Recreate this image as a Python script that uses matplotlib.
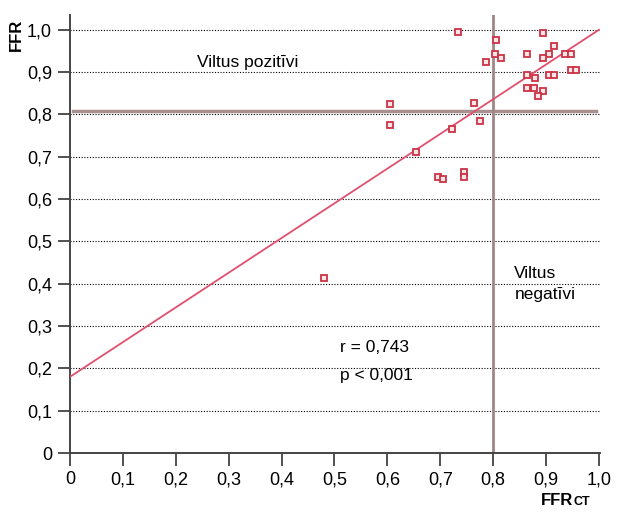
import matplotlib
matplotlib.use("Agg")
import matplotlib.pyplot as plt
import numpy as np
from matplotlib.ticker import FuncFormatter

# FFRct (x) vs FFR (y)
ffr_ct = [0.733, 0.894, 0.805, 0.803, 0.815, 0.786, 0.864, 0.915, 0.905, 0.894,
          0.936, 0.947, 0.864, 0.879, 0.905, 0.915, 0.947, 0.957, 0.864, 0.877,
          0.894, 0.885, 0.764, 0.775, 0.722, 0.605, 0.605, 0.654, 0.696, 0.705,
          0.745, 0.745, 0.480]
ffr = [0.995, 0.993, 0.976, 0.943, 0.934, 0.924, 0.943, 0.962, 0.943, 0.934,
       0.943, 0.943, 0.894, 0.886, 0.894, 0.894, 0.905, 0.905, 0.863, 0.863,
       0.856, 0.844, 0.827, 0.785, 0.766, 0.825, 0.775, 0.712, 0.652, 0.648,
       0.664, 0.652, 0.414]

fit_intercept = 0.18
fit_slope = 0.82
cutoff = 0.8
ticks = [0, 0.1, 0.2, 0.3, 0.4, 0.5, 0.6, 0.7, 0.8, 0.9, 1.0]

plt.rcParams['font.family'] = ['Liberation Sans', 'DejaVu Sans']

fig = plt.figure(figsize=(6.32, 5.13), dpi=100)
ax = fig.add_axes([70 / 632, 1 - 453 / 513, 530 / 632, 438 / 513])

ax.set_xlim(0, 1.002)
ax.set_ylim(0, 1.035)

# dotted grid
for t in ticks[1:]:
    ax.axhline(t, color='black', linestyle=(0, (1, 1.5)), linewidth=0.8, zorder=1)

# cut-off lines
ax.plot([0.005, 0.995], [0.808, 0.808], color='#a89090', linewidth=2.5, zorder=2)
ax.plot([cutoff, cutoff], [0, 1.035], color='#a08686', linewidth=2.0, zorder=2)

# regression line
xs = np.array([0, 1.0])
ax.plot(xs, fit_intercept + fit_slope * xs, color='#e0506e', linewidth=1.3, zorder=3)

ax.plot(ffr_ct, ffr, linestyle='none', marker='s', markersize=5,
        markerfacecolor='#fbe6e8', markeredgecolor='#cc3344', markeredgewidth=1.3, zorder=4)


def comma(v, p):
    if abs(v) < 1e-9:
        return '0'
    return ('%.1f' % v).replace('.', ',')


ax.set_xticks(ticks)
ax.set_yticks(ticks)
ax.xaxis.set_major_formatter(FuncFormatter(comma))
ax.yaxis.set_major_formatter(FuncFormatter(comma))
ax.tick_params(labelsize=13, length=9, width=1.2, color='#333333', pad=4)

for s in ['top', 'right']:
    ax.spines[s].set_visible(False)
for s in ['left', 'bottom']:
    ax.spines[s].set_color('#444444')
    ax.spines[s].set_linewidth(1.4)

fig.text(16 / 632, 1 - 35 / 513, 'FFR', rotation=90, fontsize=12, fontweight='bold',
         ha='center', va='center')
fig.text(541 / 632, 1 - 505 / 513, 'FFR', fontsize=12, fontweight='bold', ha='left', va='baseline')
fig.text(573 / 632, 1 - 505 / 513, 'CT', fontsize=9, fontweight='bold', ha='left', va='baseline')

ax.text(0.24, 0.922, 'Viltus pozitīvi', fontsize=12.5, va='center')
ax.text(0.84, 0.40, 'Viltus\nnegatīvi', fontsize=12.5, va='center', linespacing=1.5)
ax.text(0.51, 0.25, 'r = 0,743', fontsize=12.5, va='center')
ax.text(0.51, 0.184, 'p < 0,001', fontsize=12.5, va='center')

fig.savefig('out.png', dpi=100)
